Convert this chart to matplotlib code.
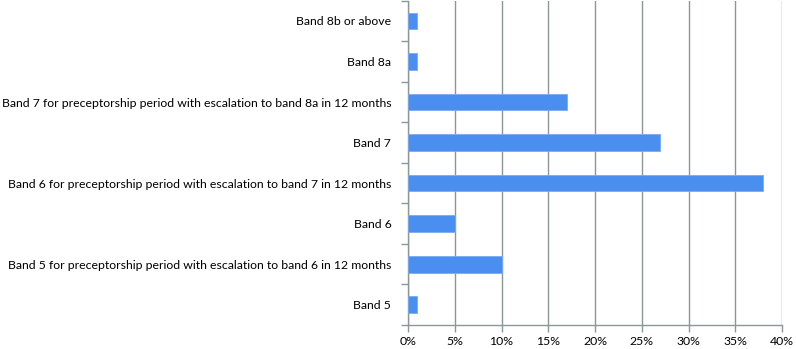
import matplotlib
matplotlib.use("Agg")
import matplotlib.pyplot as plt
import numpy as np

categories = [
    "Band 5",
    "Band 5 for preceptorship period with escalation to band 6 in 12 months",
    "Band 6",
    "Band 6 for preceptorship period with escalation to band 7 in 12 months",
    "Band 7",
    "Band 7 for preceptorship period with escalation to band 8a in 12 months",
    "Band 8a",
    "Band 8b or above",
]
values = [1, 10, 5, 38, 27, 17, 1, 1]
xticks = [0, 5, 10, 15, 20, 25, 30, 35, 40]

plt.rcParams['font.family'] = ['Lato', 'DejaVu Sans']

fig = plt.figure(figsize=(7.96, 3.49), dpi=100)
ax = fig.add_axes([408/796, 1-325/349, (782-408)/796, 325/349 - 0.002])

y = np.arange(len(categories))
ax.barh(y, values, height=0.41, color="#4a8ff0", edgecolor="#7aaaf0", linewidth=0.6, zorder=3)

ax.set_xlim(0, 40)
ax.set_ylim(-0.5, len(categories) - 0.5)
ax.set_xticks(xticks)
ax.set_xticklabels([f"{t}%" for t in xticks], fontsize=8.8)
ax.set_yticks(y)
ax.set_yticklabels(categories, fontsize=8.8)
ax.set_yticks(np.arange(-0.5, len(categories), 1), minor=True)

grid_col = "#8c9898"
ax.xaxis.grid(True, color=grid_col, linewidth=1.0, zorder=0)
ax.tick_params(axis='y', which='major', length=0, pad=12)
ax.tick_params(axis='y', which='minor', length=5, color=grid_col, width=1.0)
ax.tick_params(axis='x', length=5, color=grid_col, width=1.0, pad=3)

for s in ['top', 'right']:
    ax.spines[s].set_visible(False)
for s in ['left', 'bottom']:
    ax.spines[s].set_color(grid_col)
    ax.spines[s].set_linewidth(1.0)

fig.savefig("out.png", dpi=100)
